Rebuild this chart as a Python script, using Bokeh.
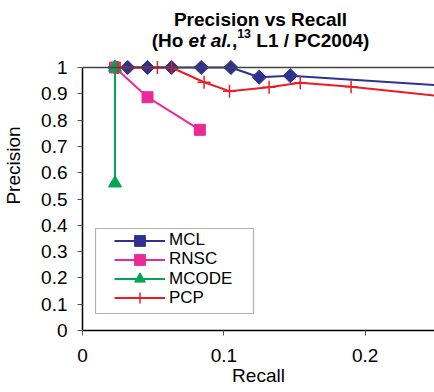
import math
from bokeh.plotting import figure
from bokeh.models import (Legend, LegendItem, Span, Label, BoxAnnotation,
                          FixedTicker, CustomJSTickFormatter, Range1d)
from bokeh.embed import file_html
from bokeh.resources import INLINE

# ---- data ----
mcl_recall = [0.023, 0.032, 0.046, 0.063, 0.084, 0.105, 0.125, 0.147, 0.30]
mcl_precision = [1.0, 1.0, 1.0, 1.0, 1.0, 1.0, 0.963, 0.969, 0.916]

rnsc_recall = [0.023, 0.046, 0.083]
rnsc_precision = [1.0, 0.887, 0.763]

mcode_recall = [0.023, 0.023]
mcode_precision = [1.0, 0.56]

pcp_recall = [0.025, 0.053, 0.063, 0.086, 0.104, 0.132, 0.154, 0.190, 0.30]
pcp_precision = [1.0, 1.0, 1.0, 0.944, 0.91, 0.925, 0.942, 0.927, 0.865]

series_names = ["MCL", "RNSC", "MCODE", "PCP"]

x_ticks = [0, 0.1, 0.2]
y_ticks = [0, 0.1, 0.2, 0.3, 0.4, 0.5, 0.6, 0.7, 0.8, 0.9, 1.0]

FONT = "Liberation Sans"
FRAME_BOTTOM_PX = 62
TOP_PX = 392 - FRAME_BOTTOM_PX  # frame spans to the top of the canvas
UNIT_PX = 263.0                  # pixels per precision unit

p = figure(width=434, height=392, output_backend="svg", toolbar_location=None,
           x_range=Range1d(0, 0.249), y_range=Range1d(0, TOP_PX / UNIT_PX),
           min_border_left=77, min_border_right=0, min_border_top=0,
           min_border_bottom=FRAME_BOTTOM_PX)
p.outline_line_color = None
p.grid.visible = False
p.background_fill_color = "white"
p.border_fill_color = "white"

fmt = CustomJSTickFormatter(code="return String(Math.round(tick*10)/10)")
for ax, ticks in ((p.xaxis[0], x_ticks), (p.yaxis[0], y_ticks)):
    ax.ticker = FixedTicker(ticks=ticks)
    ax.formatter = fmt
    ax.minor_tick_line_color = None
    ax.major_tick_in = 0
    ax.major_tick_out = 5
    ax.major_tick_line_color = "#555555"
    ax.axis_line_color = "black"
    ax.axis_line_width = 1.5
    ax.major_label_text_font = FONT
    ax.major_label_text_font_size = "19px"
    ax.major_label_text_color = "black"
    ax.axis_label_text_font = FONT
    ax.axis_label_text_font_size = "19px"
    ax.axis_label_text_font_style = "normal"
    ax.axis_label_text_color = "black"

p.xaxis.axis_label = "Recall"
p.yaxis.axis_label = "Precision"
p.xaxis.major_label_standoff = 13
p.xaxis.axis_label_standoff = 0
p.yaxis.major_label_standoff = 10
p.yaxis.axis_label_standoff = 14
p.yaxis.bounds = (0, 1)

p.add_layout(Span(location=1, dimension="width", line_color="#444444", line_width=1.5))

BLUE = "#2E3192"
PINK = "#EC2A97"
GREEN = "#00A651"
RED = "#ED1C24"

l1 = p.line(mcl_recall, mcl_precision, line_color=BLUE, line_width=2)
s1 = p.scatter(mcl_recall, mcl_precision, marker="square", size=10, angle=math.pi / 4,
               fill_color=BLUE, line_color=BLUE)
l2 = p.line(rnsc_recall, rnsc_precision, line_color=PINK, line_width=2)
s2 = p.scatter(rnsc_recall, rnsc_precision, marker="square", size=11,
               fill_color=PINK, line_color=PINK)
l3 = p.line(mcode_recall, mcode_precision, line_color=GREEN, line_width=2)
s3 = p.scatter(mcode_recall, mcode_precision, marker="triangle", size=13,
               fill_color=GREEN, line_color=GREEN)
l4 = p.line(pcp_recall, pcp_precision, line_color=RED, line_width=2)
s4 = p.scatter(pcp_recall, pcp_precision, marker="cross", size=13,
               line_color=RED, line_width=1.5)

# one single-row legend per series so the rows can sit as tightly as in the reference
GH = 27
row_centres_px = [240.0, 259.3, 278.6, 297.9]  # canvas y of each legend row
for name, rends, yc in zip(series_names, [[l1, s1], [l2, s2], [l3, s3], [l4, s4]],
                           row_centres_px):
    lg = Legend(items=[LegendItem(label=name, renderers=rends)],
                location=(32, 330 - yc - GH / 2), padding=0, spacing=0, margin=0,
                glyph_width=51, glyph_height=GH, label_height=17, label_standoff=4,
                label_text_font=FONT, label_text_font_size="17px",
                label_text_color="black",
                border_line_color=None, background_fill_alpha=0)
    p.add_layout(lg)

p.add_layout(BoxAnnotation(left=13, right=171, bottom=17, top=102,
                           left_units="screen", right_units="screen",
                           bottom_units="screen", top_units="screen",
                           fill_color=None, line_color="black", line_width=1.2))

# ---- title (mixed styles) ----
BW = {"(": .333, ")": .333, "H": .722, "o": .611, " ": .278, "e": .556, "t": .333,
      "a": .556, "l": .278, ".": .278, ",": .278, "1": .556, "3": .556, "L": .611,
      "/": .278, "P": .667, "C": .722, "2": .556, "0": .556, "4": .556}
def w(s, size):
    return sum(BW[c] for c in s) * size

TS = 19
SS = 12.5
cx = 178  # frame-relative centre
p.add_layout(Label(x=cx, y=311, x_units="screen", y_units="screen",
                   text="Precision vs Recall", text_align="center",
                   text_baseline="alphabetic", text_font=FONT, text_color="black",
                   text_font_size=f"{TS}px", text_font_style="bold"))
# (text, size, style, raise, gap before)
pieces = [("(Ho", TS, "bold", 0, 0), ("et al.", TS, "bold italic", 0, .278 * TS),
          (",", TS, "bold", 0, 0), ("13", SS, "bold", 7, 0),
          ("L1 / PC2004)", TS, "bold", 0, .278 * TS)]
total = sum(w(t, s) + g for t, s, _, _, g in pieces)
x0 = cx - total / 2
for t, s, st, dy, g in pieces:
    x0 += g
    p.add_layout(Label(x=x0, y=290 + dy, x_units="screen", y_units="screen",
                       text=t, text_align="left", text_baseline="alphabetic",
                       text_font=FONT, text_color="black",
                       text_font_size=f"{s}px", text_font_style=st))
    x0 += w(t, s)

open("out.html", "w").write(file_html(p, INLINE))
